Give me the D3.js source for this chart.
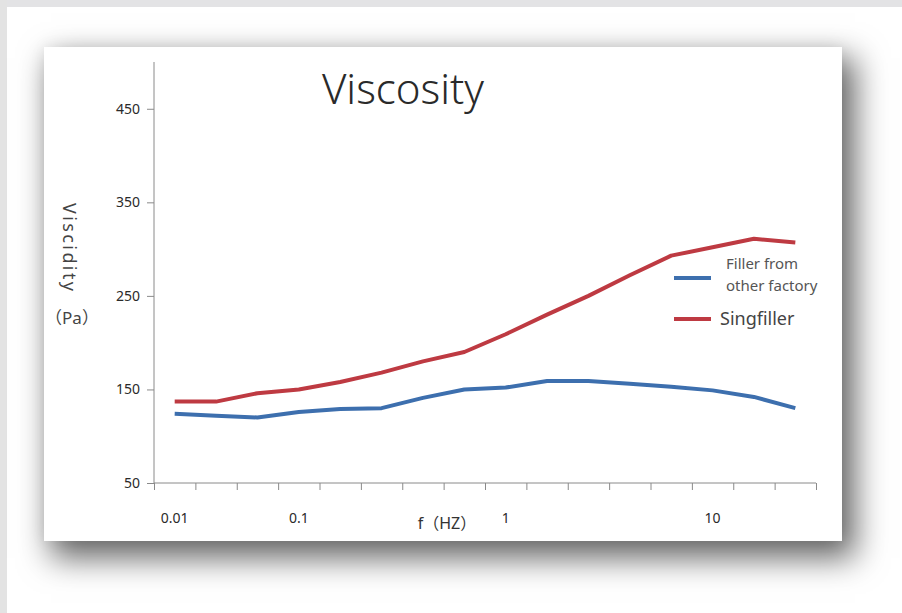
<!DOCTYPE html>
<html>
<head>
<meta charset="utf-8">
<script src="https://cdn.jsdelivr.net/npm/d3@7"></script>
<style>
  html, body { margin: 0; padding: 0; }
  body { width: 902px; height: 613px; overflow: hidden; background: #ffffff; position: relative; font-family: "Noto Sans", sans-serif; }
  #frameTop { position: absolute; left: 0; top: 0; width: 902px; height: 7px; background: #e3e3e5; }
  #frameLeft { position: absolute; left: 0; top: 0; width: 7px; height: 613px; background: #e3e3e3; }
  #card { position: absolute; left: 44px; top: 47px; width: 798px; height: 494px; background: #fff;
          box-shadow: 10px 14px 30px 3px rgba(0,0,0,0.6), 0 0 16px rgba(0,0,0,0.06); }
  svg { position: absolute; left: 0; top: 0; }
</style>
</head>
<body>
<div id="frameTop"></div>
<div id="frameLeft"></div>
<div id="card"></div>
<svg id="chart" width="902" height="613"></svg>
<script>
// ---- data ----
const categories = ["0.01", "", "", "0.1", "", "", "", "", "1", "", "", "", "", "10", "", ""];
const otherFactory = [124, 122, 120, 126, 129, 130, 141, 150, 152, 159, 159, 156, 153, 149, 142, 130];
const singfiller   = [137, 137, 146, 150, 158, 168, 180, 190, 209, 230, 250, 272, 293, 302, 311, 307];
const yTicks = [50, 150, 250, 350, 450];
const seriesNames = ["Filler from other factory", "Singfiller"];

(function () {
const svg = d3.select("#chart");
const pL = 154, pR = 816, pT = 62, pB = 483;

const x = d3.scaleBand().domain(d3.range(categories.length)).range([pL, pR]).padding(0);
const xEdge = d3.scaleLinear().domain([0, categories.length]).range([pL, pR]);
const y = d3.scaleLinear().domain([50, 500]).range([pB, pT]);

// title
svg.append("text")
  .attr("x", 403).attr("y", 104)
  .attr("text-anchor", "middle")
  .style("font-family", "'Noto Sans', sans-serif")
  .style("font-size", "42px")
  .style("font-weight", "300")
  .style("fill", "#2a2a2a")
  .text("Viscosity");

// y axis
const yAxis = svg.append("g")
  .attr("transform", `translate(${pL},0)`)
  .call(d3.axisLeft(y).tickValues(yTicks).tickSize(7).tickPadding(7));
yAxis.select(".domain").attr("stroke", "#8a8a8a").attr("d", `M0,${pT}V${pB}`);
yAxis.selectAll(".tick line").attr("stroke", "#8a8a8a");
yAxis.selectAll(".tick text")
  .style("font-family", "'Noto Sans', sans-serif")
  .style("font-size", "14px")
  .style("fill", "#2a2a2a");

// x axis: boundary ticks
const xTickG = svg.append("g")
  .attr("transform", `translate(0,${pB})`)
  .call(d3.axisBottom(xEdge).tickValues(d3.range(categories.length + 1)).tickSize(7).tickFormat(""));
xTickG.select(".domain").attr("stroke", "#8a8a8a").attr("d", `M${pL},0H${pR}`);
xTickG.selectAll(".tick line").attr("stroke", "#8a8a8a");

// x axis: category labels
const xLab = svg.append("g")
  .attr("transform", `translate(0,${pB})`)
  .call(d3.axisBottom(x).tickSize(0).tickPadding(30).tickFormat(i => categories[i]));
xLab.select(".domain").remove();
xLab.selectAll(".tick text")
  .style("font-family", "'Noto Sans', sans-serif")
  .style("font-size", "14px")
  .style("fill", "#2a2a2a");

// axis titles
svg.append("text")
  .attr("x", 447).attr("y", 529)
  .attr("text-anchor", "middle")
  .style("font-family", "'Noto Sans', 'Noto Sans CJK SC', sans-serif")
  .style("font-size", "16px")
  .style("fill", "#333")
  .text("f（HZ）");

svg.append("text")
  .attr("transform", "translate(63,247) rotate(90)")
  .attr("text-anchor", "middle")
  .attr("textLength", 88)
  .attr("lengthAdjust", "spacing")
  .style("font-family", "'Noto Sans', sans-serif")
  .style("font-size", "18px")
  .style("fill", "#444")
  .text("Viscidity");

svg.append("text")
  .attr("x", 72).attr("y", 324)
  .attr("text-anchor", "middle")
  .style("font-family", "'Noto Sans', 'Noto Sans CJK SC', sans-serif")
  .style("font-size", "17px")
  .style("fill", "#444")
  .text("（Pa）");

// lines
const line = d3.line()
  .x((d, i) => x(i) + x.bandwidth() / 2)
  .y(d => y(d));

const colors = ["#3d6fae", "#be3a42"];
[otherFactory, singfiller].forEach((s, k) => {
  svg.append("path")
    .datum(s)
    .attr("d", line)
    .attr("fill", "none")
    .attr("stroke", colors[k])
    .attr("stroke-width", 4)
    .attr("stroke-linejoin", "round")
    .attr("stroke-linecap", "butt");
});

// legend
const lg = svg.append("g");
lg.append("line").attr("x1", 674).attr("x2", 711).attr("y1", 278).attr("y2", 278)
  .attr("stroke", colors[0]).attr("stroke-width", 4);
lg.append("text").attr("x", 726).attr("y", 269)
  .style("font-family", "'Noto Sans', sans-serif").style("font-size", "15px").style("fill", "#555")
  .text("Filler from");
lg.append("text").attr("x", 726).attr("y", 291)
  .style("font-family", "'Noto Sans', sans-serif").style("font-size", "15px").style("fill", "#555")
  .text("other factory");
lg.append("line").attr("x1", 674).attr("x2", 711).attr("y1", 319).attr("y2", 319)
  .attr("stroke", colors[1]).attr("stroke-width", 4);
lg.append("text").attr("x", 720).attr("y", 325)
  .style("font-family", "'Noto Sans', sans-serif").style("font-size", "18px").style("fill", "#444")
  .text(seriesNames[1]);
})();
</script>
</body>
</html>
